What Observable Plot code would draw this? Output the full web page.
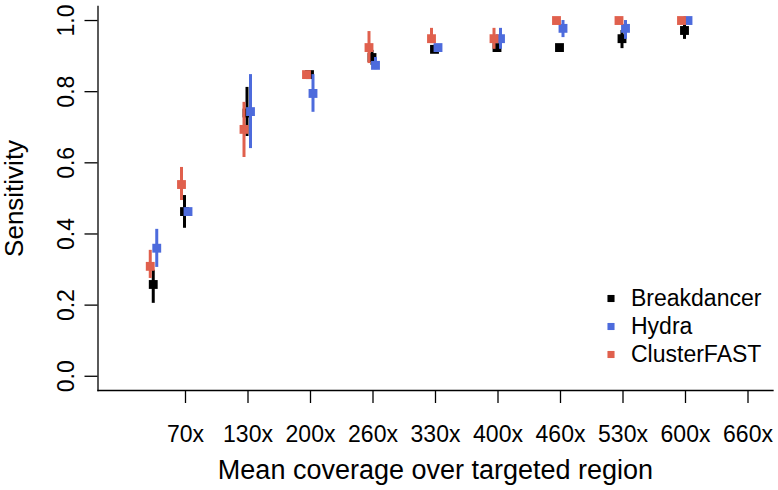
<!DOCTYPE html>
<html><head><meta charset="utf-8">
<script src="https://cdn.jsdelivr.net/npm/d3@7"></script>
<script src="https://cdn.jsdelivr.net/npm/@observablehq/plot@0.6"></script>
<style>body{margin:0;background:#fff}</style>
</head><body><div id="chart"></div>
<script>
// Coverage groups (index position on the evenly spaced coverage axis)
const coverageIndex = [0.5, 1, 2, 3, 4, 5, 6, 7, 8, 9];
const tickPositions = [1, 2, 3, 4, 5, 6, 7, 8, 9, 10];
const tickLabels = ["70x", "130x", "200x", "260x", "330x", "400x", "460x", "530x", "600x", "660x"];
const yTicks = [0, 0.2, 0.4, 0.6, 0.8, 1.0];

const seriesNames = ["Breakdancer", "Hydra", "ClusterFAST"];
const seriesColors = ["#000000", "#4D6BDC", "#E0604D"];

const breakdancer      = [0.258, 0.463, 0.740, 0.848, 0.896, 0.919, 0.924, 0.924, 0.949, 0.972];
const breakdancerLower = [0.205, 0.416, 0.674, 0.835, 0.874, 0.910, 0.915, 0.924, 0.921, 0.947];
const breakdancerUpper = [0.298, 0.508, 0.812, 0.855, 0.916, 0.930, 0.930, 0.924, 0.972, 0.986];

const hydra      = [0.360, 0.463, 0.744, 0.795, 0.874, 0.924, 0.949, 0.978, 0.978, 1.000];
const hydraLower = [0.306, 0.455, 0.640, 0.742, 0.862, 0.924, 0.919, 0.952, 0.947, 1.000];
const hydraUpper = [0.413, 0.470, 0.848, 0.848, 0.896, 0.924, 0.978, 1.000, 1.000, 1.000];

const clusterfast      = [0.309, 0.539, 0.694, 0.848, 0.924, 0.949, 0.949, 1.000, 1.000, 1.000];
const clusterfastLower = [0.275, 0.494, 0.615, 0.848, 0.879, 0.935, 0.919, 1.000, 1.000, 1.000];
const clusterfastUpper = [0.354, 0.587, 0.770, 0.848, 0.969, 0.978, 0.978, 1.000, 1.000, 1.000];

const seriesData = [
  [breakdancer, breakdancerLower, breakdancerUpper],
  [hydra, hydraLower, hydraUpper],
  [clusterfast, clusterfastLower, clusterfastUpper]
];
// small horizontal dodge per series (in axis units)
const dodge = [-0.016, 0.04, -0.064];

const marks = [];
seriesNames.forEach((name, s) => {
  const [v, lo, hi] = seriesData[s];
  const rows = coverageIndex.map((c, i) => ({x: c + dodge[s], v: v[i], lo: lo[i], hi: hi[i]}));
  marks.push(Plot.ruleX(rows, {x: "x", y1: "lo", y2: "hi", stroke: seriesColors[s], strokeWidth: 3}));
  marks.push(Plot.dot(rows, {x: "x", y: "v", symbol: "square", r: 5, fill: seriesColors[s], stroke: null}));
});

// legend
const legendRowsDy = [-92, -64, -36];
seriesNames.forEach((name, s) => {
  marks.push(Plot.dot([name], {frameAnchor: "bottom-right", dx: -162, dy: legendRowsDy[s], symbol: "square", r: 4, fill: seriesColors[s], stroke: null}));
  marks.push(Plot.text([name], {frameAnchor: "bottom-right", dx: -142, dy: legendRowsDy[s], text: d => d, textAnchor: "start", lineAnchor: "middle", fontSize: 23, fill: "#000"}));
});

const chart = Plot.plot({
  width: 778,
  height: 490,
  marginTop: 5.8,
  marginBottom: 100,
  marginLeft: 97.5,
  marginRight: 5.5,
  style: {fontFamily: "'Liberation Sans', Arial, sans-serif", fontSize: "23px", background: "white", color: "#000"},
  x: {domain: [-0.4, 10.4]},
  y: {domain: [-0.04, 1.04]},
  marks: [
    Plot.frame({anchor: "left", stroke: "#000", strokeWidth: 1.3}),
    Plot.frame({anchor: "bottom", stroke: "#000", strokeWidth: 1.3}),
    Plot.axisX({ticks: tickPositions, tickSize: 13, tickPadding: 22, label: null, fontSize: 23, strokeWidth: 1.3,
      tickFormat: d => tickLabels[tickPositions.indexOf(d)]}),
    Plot.axisY({ticks: yTicks, tickSize: 13, label: null, strokeWidth: 1.3, tickFormat: () => ""}),
    Plot.text(yTicks, {y: d => d, text: d => d.toFixed(1), frameAnchor: "left", dx: -24.5, rotate: -90,
      textAnchor: "middle", lineAnchor: "bottom", fontSize: 23, fill: "#000"}),
    Plot.text(["Sensitivity"], {frameAnchor: "left", dx: -83, rotate: -90, textAnchor: "middle", lineAnchor: "middle", fontSize: 26, fill: "#000"}),
    Plot.text(["Mean coverage over targeted region"], {frameAnchor: "bottom", dy: 80, textAnchor: "middle", lineAnchor: "middle", fontSize: 27, fill: "#000"}),
    ...marks
  ]
});
document.getElementById("chart").appendChild(chart);
</script>
</body></html>
